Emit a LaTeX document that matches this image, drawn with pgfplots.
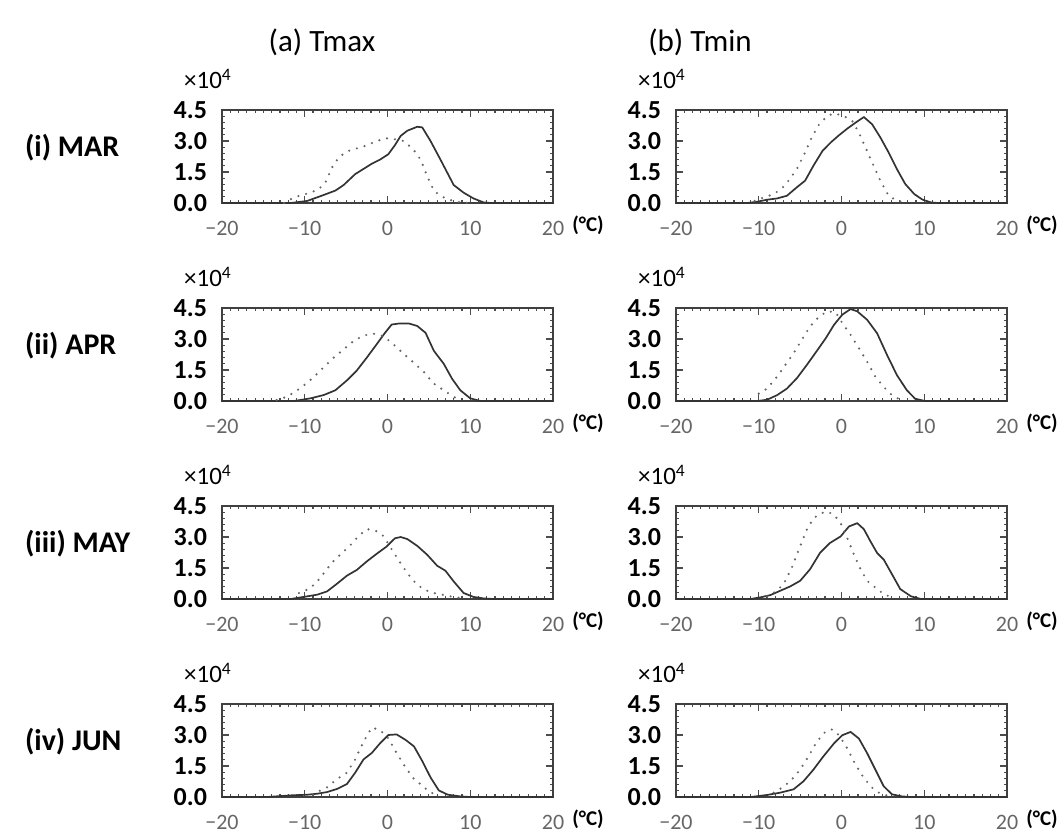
\documentclass[border=0pt]{standalone}
\usepackage{fontspec}
\setmainfont{Carlito}
\usepackage{pgfplots}
\pgfplotsset{compat=1.18}

\pgfplotsset{
  panel/.style={
    scale only axis, width=165.5pt, height=46.5pt, anchor=north west,
    xmin=-20, xmax=20, ymin=0, ymax=4.5,
    xtick={-20,-10,0,10,20}, xticklabels={−20,−10,0,10,20},
    ytick={0,1.5,3,4.5}, yticklabels={0.0,1.5,3.0,4.5},
    minor x tick num=9, minor y tick num=4,
    tick align=inside, tickpos=both,
    major tick length=3.5pt, minor tick length=1.6pt,
    axis line style={line width=0.8pt, black!75},
    every tick/.style={black!70, line width=0.6pt},
    xticklabel style={font=\fontsize{11}{10}\selectfont, text=black!60, yshift=-5.5pt},
    yticklabel style={font=\fontsize{13}{12}\selectfont\bfseries, xshift=-4pt},
    clip=false,
    solid/.style={black!80, line width=0.85pt, line join=round},
    dots/.style={black!60, line width=1.2pt, line cap=round, dash pattern=on 0pt off 4pt},
    extra description/.code={
      \node[font=\fontsize{12.5}{12}\selectfont, anchor=south] at ([xshift=-7pt,yshift=7pt]rel axis cs:0,1) {×10\textsuperscript{4}};
      \node[font=\fontsize{10.5}{10}\selectfont\bfseries, anchor=west, inner sep=0pt] at ([xshift=9.5pt,yshift=-11.2pt]rel axis cs:1,0) {(°C)};
    },
  }
}

\begin{document}
\begin{tikzpicture}
\useasboundingbox (0,0) rectangle (530pt,-416pt);

\node[font=\fontsize{15.5}{15}\selectfont] at (161pt,-21pt) {(a) Tmax};
\node[font=\fontsize{15.5}{15}\selectfont] at (350pt,-21pt) {(b) Tmin};

\node[font=\fontsize{15}{15}\selectfont\bfseries, anchor=west] at (9pt,-74pt) {(i) MAR};
\node[font=\fontsize{15}{15}\selectfont\bfseries, anchor=west] at (9pt,-173pt) {(ii) APR};
\node[font=\fontsize{15}{15}\selectfont\bfseries, anchor=west] at (9pt,-272pt) {(iii) MAY};
\node[font=\fontsize{15}{15}\selectfont\bfseries, anchor=west] at (9pt,-371pt) {(iv) JUN};

% ---------- Row 1: MAR ----------
\begin{axis}[panel, at={(111pt,-55pt)}]
\addplot[solid] coordinates {(-20,0)(-11.7,0)(-9.7,0.1)(-7.7,0.39)(-6.3,0.6)(-5.3,0.87)(-3.9,1.4)(-2.9,1.65)(-1.9,1.9)(-0.9,2.1)(0.1,2.36)(0.9,2.8)(1.6,3.25)(2.4,3.5)(3.6,3.69)(4.2,3.66)(5.2,3.0)(6.4,2.1)(8.0,0.87)(9.2,0.5)(10.4,0.22)(11.6,0.03)(12.5,0)(20,0)};
\addplot[dots] coordinates {(-12.5,0)(-11.3,0.27)(-10.3,0.39)(-9.3,0.5)(-8.3,0.67)(-7.5,1.0)(-6.7,1.72)(-5.9,2.2)(-4.9,2.5)(-4.1,2.6)(-2.9,2.73)(-1.7,2.93)(-0.3,3.14)(0.7,3.1)(2.0,3.0)(3.2,2.55)(4.0,2.1)(4.8,1.3)(5.6,0.6)(6.4,0.35)(7.4,0.16)(8.8,0.03)(10,0)};
\end{axis}
\begin{axis}[panel, at={(338pt,-55pt)}]
\addplot[solid] coordinates {(-20,0)(-11.4,0)(-10.2,0.06)(-9.0,0.16)(-7.8,0.22)(-6.6,0.35)(-5.4,0.76)(-4.4,1.08)(-3.4,1.8)(-2.3,2.52)(-1.3,2.93)(-0.3,3.28)(0.7,3.6)(1.7,3.89)(2.7,4.16)(3.7,3.81)(4.7,3.17)(5.7,2.44)(6.7,1.64)(7.7,0.92)(8.8,0.43)(9.8,0.16)(10.8,0.03)(11.6,0)(20,0)};
\addplot[dots] coordinates {(-10.5,0.1)(-9.4,0.27)(-8.2,0.43)(-7.2,0.71)(-6.4,1.08)(-5.4,1.64)(-4.4,2.44)(-3.6,3.17)(-2.7,3.81)(-1.7,4.21)(-0.9,4.34)(0.3,4.21)(1.3,3.97)(2.1,3.41)(2.9,2.68)(3.7,1.96)(4.7,1.08)(5.7,0.35)(6.7,0.11)(7.7,0.03)};
\end{axis}

% ---------- Row 2: APR ----------
\begin{axis}[panel, at={(111pt,-154pt)}]
\addplot[solid] coordinates {(-20,0)(-11.3,0)(-9.3,0.13)(-7.7,0.29)(-6.3,0.52)(-4.9,1.0)(-3.7,1.48)(-2.5,2.1)(-1.3,2.75)(-0.3,3.3)(0.5,3.7)(1.4,3.75)(2.6,3.75)(3.6,3.63)(4.6,3.3)(5.6,2.43)(6.8,1.8)(7.8,1.08)(8.8,0.52)(10,0.13)(11.2,0)(20,0)};
\addplot[dots] coordinates {(-13.4,0.05)(-12.5,0.16)(-11.3,0.4)(-10.1,0.76)(-8.9,1.16)(-7.7,1.64)(-6.5,2.1)(-5.3,2.5)(-4.1,2.9)(-2.9,3.17)(-1.7,3.26)(-0.5,3.14)(0.5,2.82)(2.0,2.27)(3.2,1.84)(4.4,1.4)(5.6,0.84)(6.8,0.52)(8.0,0.2)(8.8,0.05)};
\end{axis}
\begin{axis}[panel, at={(338pt,-154pt)}]
\addplot[solid] coordinates {(-20,0)(-10.2,0)(-9.0,0.06)(-7.8,0.28)(-6.6,0.6)(-5.4,1.1)(-4.2,1.74)(-2.9,2.47)(-1.9,3.04)(-0.9,3.69)(0.1,4.18)(1.1,4.45)(1.9,4.34)(3.1,3.93)(4.3,3.28)(5.5,2.23)(6.7,1.25)(7.9,0.52)(8.9,0.11)(10.1,0)(20,0)};
\addplot[dots] coordinates {(-10,0.36)(-9.0,0.6)(-7.8,1.17)(-6.8,1.74)(-5.8,2.31)(-4.8,2.96)(-3.8,3.61)(-2.7,4.09)(-1.7,4.34)(-0.7,4.29)(0.1,3.77)(1.1,3.2)(2.1,2.56)(3.1,1.9)(4.1,1.17)(5.1,0.68)(6.1,0.28)(7.1,0.06)};
\end{axis}

% ---------- Row 3: MAY ----------
\begin{axis}[panel, at={(111pt,-253pt)}]
\addplot[solid] coordinates {(-20,0)(-11.7,0)(-9.7,0.13)(-8.5,0.21)(-7.3,0.37)(-6.1,0.74)(-4.9,1.13)(-3.7,1.41)(-2.5,1.82)(-1.3,2.19)(-0.1,2.54)(0.9,2.94)(1.6,3.0)(2.4,2.9)(3.6,2.57)(4.8,2.14)(6.0,1.61)(7.0,1.37)(8.0,0.85)(9.2,0.29)(10.4,0.1)(11.6,0.03)(12.8,0)(20,0)};
\addplot[dots] coordinates {(-10.7,0.29)(-9.7,0.45)(-8.7,0.74)(-7.7,1.25)(-6.7,1.77)(-5.7,2.15)(-4.5,2.6)(-3.5,3.05)(-2.5,3.38)(-1.5,3.32)(-0.5,3.05)(0.3,2.54)(1.3,1.9)(2.4,1.25)(3.4,0.77)(4.4,0.45)(5.6,0.29)(6.6,0.21)(7.6,0.13)(8.8,0.05)};
\end{axis}
\begin{axis}[panel, at={(338pt,-253pt)}]
\addplot[solid] coordinates {(-20,0)(-11.0,0)(-9.8,0.08)(-8.6,0.19)(-7.4,0.4)(-6.2,0.61)(-5.0,0.88)(-3.8,1.44)(-2.6,2.23)(-1.4,2.71)(-0.1,3.03)(0.9,3.51)(1.9,3.67)(2.7,3.38)(3.5,2.79)(4.3,2.23)(5.1,1.91)(6.1,1.2)(7.1,0.48)(8.4,0.13)(9.6,0)(20,0)};
\addplot[dots] coordinates {(-9.0,0.13)(-8.0,0.35)(-7.0,0.72)(-6.0,1.52)(-5.0,2.55)(-4.2,3.35)(-3.4,3.9)(-2.5,4.15)(-1.7,4.23)(-0.9,4.07)(-0.1,3.67)(0.7,2.95)(1.5,2.15)(2.3,1.44)(3.1,0.88)(4.3,0.48)(5.3,0.19)(6.3,0.08)};
\end{axis}

% ---------- Row 4: JUN ----------
\begin{axis}[panel, at={(111pt,-352pt)}]
\addplot[solid] coordinates {(-20,0)(-14.6,0)(-11.7,0.08)(-9.7,0.11)(-8.5,0.16)(-7.3,0.24)(-6.1,0.39)(-4.9,0.63)(-3.9,1.18)(-2.9,1.82)(-1.9,2.13)(-0.9,2.6)(0.1,3.0)(1.1,3.03)(2.2,2.76)(3.2,2.45)(4.2,1.74)(5.2,0.95)(6.2,0.32)(7.3,0.11)(8.8,0.03)(10,0)(20,0)};
\addplot[dots] coordinates {(-9.0,0.1)(-8.5,0.24)(-7.3,0.47)(-6.1,0.87)(-4.9,1.18)(-3.9,1.82)(-2.9,2.68)(-1.9,3.36)(-0.9,3.24)(0.1,2.84)(1.1,2.13)(2.2,1.42)(3.2,0.87)(4.2,0.55)(5.0,0.27)(6.0,0.08)};
\end{axis}
\begin{axis}[panel, at={(338pt,-352pt)}]
\addplot[solid] coordinates {(-20,0)(-11.0,0)(-9.0,0.1)(-7.4,0.21)(-5.8,0.37)(-4.6,0.76)(-3.4,1.32)(-2.2,1.96)(-0.9,2.6)(0.1,2.99)(1.1,3.15)(2.1,2.83)(3.1,2.12)(4.1,1.32)(5.1,0.52)(6.1,0.13)(7.3,0.03)(8.4,0)(20,0)};
\addplot[dots] coordinates {(-8.2,0.21)(-7.2,0.45)(-6.2,0.76)(-5.0,1.32)(-4.0,1.96)(-3.0,2.67)(-1.9,3.18)(-1.1,3.27)(-0.3,2.99)(0.7,2.35)(1.7,1.56)(2.7,0.92)(3.7,0.45)(4.7,0.16)(5.7,0.05)};
\end{axis}
\end{tikzpicture}
\end{document}
